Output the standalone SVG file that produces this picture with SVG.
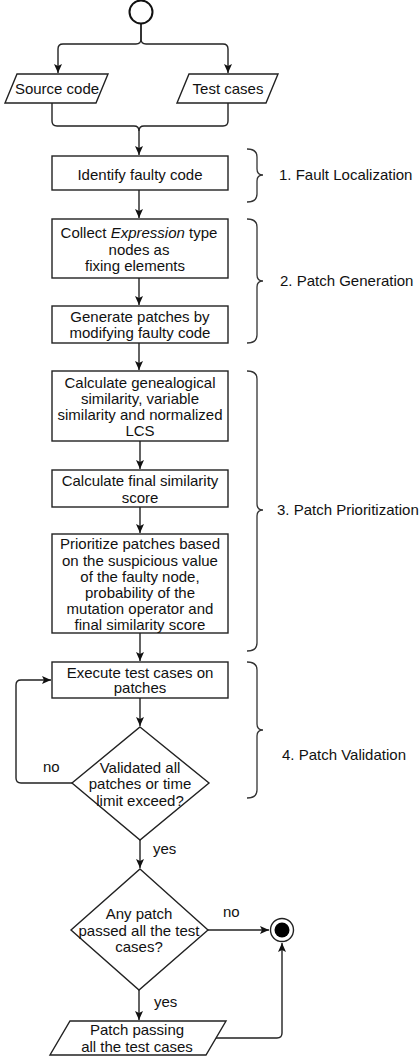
<svg xmlns="http://www.w3.org/2000/svg" width="419" height="1059" viewBox="0 0 419 1059">
<style>
.box{fill:#fff;stroke:#222;stroke-width:1.4}
.edge{fill:none;stroke:#222;stroke-width:1.4}
.brace{fill:none;stroke:#333;stroke-width:1.3}
text{font-family:"Liberation Sans",Arial,sans-serif;font-size:15px;fill:#111}
.c{text-anchor:middle}
</style>
<defs>
<marker id="arr" markerUnits="userSpaceOnUse" markerWidth="10" markerHeight="10" refX="9" refY="4" orient="auto">
<path d="M0,0 L9,4 L0,8 L2,4 z" fill="#111"/>
</marker>
</defs>
<g id="connectors">
<path class="edge" d="M141,23 V39 Q141,44 136,44 H63 Q58,44 58,49 V73" marker-end="url(#arr)"/>
<path class="edge" d="M141,23 V39 Q141,44 146,44 H223 Q228,44 228,49 V73" marker-end="url(#arr)"/>
<path class="edge" d="M52,103 V121 Q52,126 57,126 H134 Q139,126 139,131 V155" marker-end="url(#arr)"/>
<path class="edge" d="M228,103 V121 Q228,126 223,126 H144 Q139,126 139,131"/>
<path class="edge" d="M139,190 V218" marker-end="url(#arr)"/>
<path class="edge" d="M139,278 V305" marker-end="url(#arr)"/>
<path class="edge" d="M139,343 V370" marker-end="url(#arr)"/>
<path class="edge" d="M140,441 V469" marker-end="url(#arr)"/>
<path class="edge" d="M140,507 V533" marker-end="url(#arr)"/>
<path class="edge" d="M140,633 V661" marker-end="url(#arr)"/>
<path class="edge" d="M140,698 V726" marker-end="url(#arr)"/>
<path class="edge" d="M72,783 H21 Q16,783 16,778 V685 Q16,680 21,680 H51" marker-end="url(#arr)"/>
<path class="edge" d="M140,840 V868" marker-end="url(#arr)"/>
<path class="edge" d="M208,930 H269" marker-end="url(#arr)"/>
<path class="edge" d="M139,990 V1020" marker-end="url(#arr)"/>
<path class="edge" d="M216,1038 H277 Q282,1038 282,1033 V943" marker-end="url(#arr)"/>
<text x="43" y="772">no</text>
<text x="153" y="854">yes</text>
<text x="223" y="917">no</text>
<text x="154" y="1007">yes</text>
</g>
<g id="start"><circle cx="141" cy="12" r="11.5" fill="#fff" stroke="#111" stroke-width="2"/></g>
<g id="source-code">
<polygon class="box" points="17,74 108,74 96,103 5,103"/>
<text class="c" x="57" y="94">Source code</text>
</g>
<g id="test-cases">
<polygon class="box" points="189,74 278,74 266,103 177,103"/>
<text class="c" x="228" y="94">Test cases</text>
</g>
<g id="identify">
<rect class="box" x="52" y="156" width="176" height="34"/>
<text class="c" x="140" y="180">Identify faulty code</text>
</g>
<g id="collect">
<rect class="box" x="52" y="219" width="176" height="59"/>
<text class="c" x="139" y="238">Collect <tspan font-style="italic">Expression</tspan> type</text>
<text class="c" x="139" y="255">nodes as</text>
<text class="c" x="135" y="271">fixing elements</text>
</g>
<g id="generate">
<rect class="box" x="52" y="306" width="176" height="37"/>
<text class="c" x="140" y="322">Generate patches by</text>
<text class="c" x="140" y="338">modifying faulty code</text>
</g>
<g id="calculate">
<rect class="box" x="52" y="371" width="176" height="70"/>
<text class="c" x="140" y="388">Calculate genealogical</text>
<text class="c" x="140" y="404">similarity, variable</text>
<text class="c" x="140" y="420">similarity and normalized</text>
<text class="c" x="140" y="436">LCS</text>
</g>
<g id="final-score">
<rect class="box" x="52" y="470" width="176" height="37"/>
<text class="c" x="140" y="486">Calculate final similarity</text>
<text class="c" x="140" y="503">score</text>
</g>
<g id="prioritize">
<rect class="box" x="52" y="534" width="176" height="99"/>
<text class="c" x="140" y="549">Prioritize patches based</text>
<text class="c" x="140" y="566">on the suspicious value</text>
<text class="c" x="140" y="582">of the faulty node,</text>
<text class="c" x="140" y="598">probability of the</text>
<text class="c" x="140" y="614">mutation operator and</text>
<text class="c" x="140" y="630">final similarity score</text>
</g>
<g id="execute">
<rect class="box" x="52" y="662" width="176" height="36"/>
<text class="c" x="140" y="678">Execute test cases on</text>
<text class="c" x="140" y="693">patches</text>
</g>
<g id="validated">
<polygon class="box" points="140,727 209,783 140,840 72,783"/>
<text class="c" x="140" y="773">Validated all</text>
<text class="c" x="140" y="789">patches or time</text>
<text class="c" x="140" y="806">limit exceed?</text>
</g>
<g id="any-passed">
<polygon class="box" points="140,869 208,930 139,990 71,930"/>
<text class="c" x="139" y="919">Any patch</text>
<text class="c" x="139" y="936">passed all the test</text>
<text class="c" x="139" y="952">cases?</text>
</g>
<g id="passing">
<polygon class="box" points="70,1021 226,1021 206,1055 50,1055"/>
<text class="c" x="137" y="1035">Patch passing</text>
<text class="c" x="137" y="1052">all the test cases</text>
</g>
<g id="end">
<circle cx="282" cy="930" r="11.5" fill="#fff" stroke="#222" stroke-width="1.4"/>
<circle cx="282" cy="930" r="7.5" fill="#000"/>
</g>
<g id="fault-localization">
<path class="brace" d="M247,149 Q257,149 257,157 V169 Q257,175 263,175 Q257,175 257,181 V194 Q257,202 247,202"/>
<text x="279" y="180">1. Fault Localization</text>
</g>
<g id="patch-generation">
<path class="brace" d="M247,219 Q257,219 257,227 V275 Q257,281 263,281 Q257,281 257,287 V335 Q257,343 247,343"/>
<text x="280" y="286">2. Patch Generation</text>
</g>
<g id="patch-prioritization">
<path class="brace" d="M247,371 Q257,371 257,379 V504 Q257,510 263,510 Q257,510 257,516 V643 Q257,651 247,651"/>
<text x="277" y="515">3. Patch Prioritization</text>
</g>
<g id="patch-validation">
<path class="brace" d="M247,662 Q257,662 257,670 V724 Q257,730 263,730 Q257,730 257,736 V790 Q257,798 247,798"/>
<text x="282" y="760">4. Patch Validation</text>
</g>
</svg>
